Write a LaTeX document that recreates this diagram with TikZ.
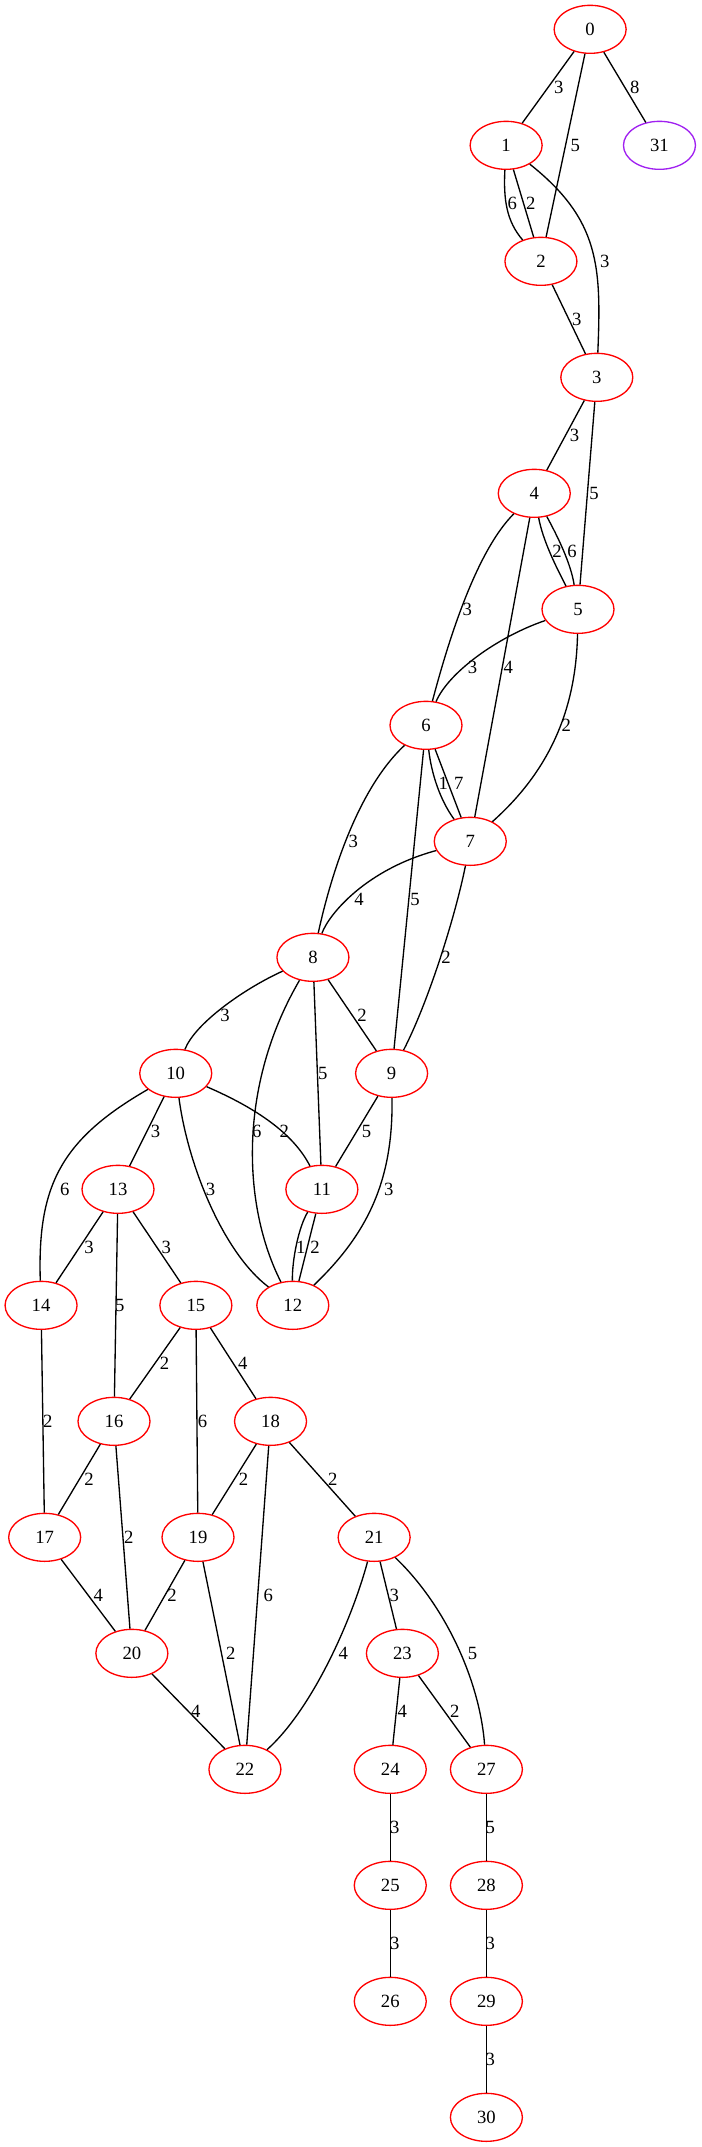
\documentclass[tikz,border=0pt]{standalone}
\usepackage{fontspec}
\setmainfont{Liberation Serif}
\usetikzlibrary{shapes.geometric}
\definecolor{gvred}{RGB}{255,0,0}
\definecolor{gvpurple}{RGB}{160,32,240}
\begin{document}
\begin{tikzpicture}[x=1pt,y=1pt,
  vtx/.style={ellipse,draw=gvred,line width=1pt,minimum width=54pt,minimum height=36pt,inner sep=0pt,font=\fontsize{14}{16}\selectfont},
  vtxp/.style={vtx,draw=gvpurple},
  lbl/.style={inner sep=0pt,font=\fontsize{14}{16}\selectfont},
  conn/.style={line width=1pt,draw=black}]
\useasboundingbox (0,0) rectangle (525.75,-1610.25);
% nodes
\node[vtx] (n0) at (442.6,-22) {0};
\node[vtx] (n1) at (379.6,-109) {1};
\node[vtxp] (n31) at (494.6,-109) {31};
\node[vtx] (n2) at (405.7,-196) {2};
\node[vtx] (n3) at (447.6,-283) {3};
\node[vtx] (n4) at (400.7,-370) {4};
\node[vtx] (n5) at (433.5,-457) {5};
\node[vtx] (n6) at (319.5,-544) {6};
\node[vtx] (n7) at (352.7,-631) {7};
\node[vtx] (n8) at (234.7,-718) {8};
\node[vtx] (n10) at (131.8,-805) {10};
\node[vtx] (n9) at (293.7,-805) {9};
\node[vtx] (n13) at (88.5,-892) {13};
\node[vtx] (n11) at (241.4,-892) {11};
\node[vtx] (n14) at (30.8,-979) {14};
\node[vtx] (n15) at (146.9,-979) {15};
\node[vtx] (n12) at (219.6,-979) {12};
\node[vtx] (n16) at (85.5,-1066) {16};
\node[vtx] (n18) at (202.9,-1066) {18};
\node[vtx] (n17) at (33.5,-1153) {17};
\node[vtx] (n19) at (148.5,-1153) {19};
\node[vtx] (n21) at (280.6,-1153) {21};
\node[vtx] (n20) at (98.9,-1240) {20};
\node[vtx] (n23) at (301.8,-1240) {23};
\node[vtx] (n22) at (183.7,-1327) {22};
\node[vtx] (n24) at (292.7,-1327) {24};
\node[vtx] (n27) at (364.8,-1327) {27};
\node[vtx] (n25) at (292.7,-1414) {25};
\node[vtx] (n28) at (364.8,-1414) {28};
\node[vtx] (n26) at (292.7,-1501) {26};
\node[vtx] (n29) at (364.8,-1501) {29};
\node[vtx] (n30) at (364.8,-1588) {30};
% edges
\draw[conn] (n0) -- (n1);
\draw[conn] (n0) -- (n2);
\draw[conn] (n0) -- (n31);
\draw[conn] (n1) .. controls (377.5,-150) and (380,-166) .. (n2);
\draw[conn] (n1) -- (n2);
\draw[conn] (n1) .. controls (450,-165) and (451,-200) .. (n3);
\draw[conn] (n2) -- (n3);
\draw[conn] (n3) -- (n4);
\draw[conn] (n3) -- (n5);
\draw[conn] (n4) .. controls (407,-405) and (417,-425) .. (n5);
\draw[conn] (n4) .. controls (418,-402) and (428,-422) .. (n5);
\draw[conn] (n4) .. controls (356.6,-414.1) and (335.7,-482.7) .. (n6);
\draw[conn] (n4) -- (n7);
\draw[conn] (n5) .. controls (372,-478) and (336,-505) .. (n6);
\draw[conn] (n5) .. controls (432,-535) and (410,-580) .. (n7);
\draw[conn] (n6) .. controls (323.5,-580) and (330,-600) .. (n7);
\draw[conn] (n6) -- (n7);
\draw[conn] (n6) .. controls (268,-592) and (248,-657) .. (n8);
\draw[conn] (n6) -- (n9);
\draw[conn] (n7) .. controls (275,-652) and (247,-685) .. (n8);
\draw[conn] (n7) .. controls (342,-685) and (322,-750) .. (n9);
\draw[conn] (n8) .. controls (182,-742) and (146,-768) .. (n10);
\draw[conn] (n8) -- (n9);
\draw[conn] (n8) -- (n11);
\draw[conn] (n8) .. controls (178,-815) and (182,-905) .. (n12);
\draw[conn] (n10) .. controls (192,-831) and (220,-850) .. (n11);
\draw[conn] (n9) -- (n11);
\draw[conn] (n10) -- (n13);
\draw[conn] (n10) .. controls (45,-855) and (28,-890) .. (n14);
\draw[conn] (n10) .. controls (141,-875) and (168,-940) .. (n12);
\draw[conn] (n9) .. controls (295,-885) and (276,-925) .. (n12);
\draw[conn] (n11) .. controls (224,-920) and (219,-945) .. (n12);
\draw[conn] (n11) -- (n12);
\draw[conn] (n13) -- (n14);
\draw[conn] (n13) -- (n15);
\draw[conn] (n13) -- (n16);
\draw[conn] (n14) -- (n17);
\draw[conn] (n15) -- (n16);
\draw[conn] (n15) -- (n18);
\draw[conn] (n15) -- (n19);
\draw[conn] (n16) -- (n17);
\draw[conn] (n16) -- (n20);
\draw[conn] (n18) -- (n19);
\draw[conn] (n18) -- (n21);
\draw[conn] (n18) -- (n22);
\draw[conn] (n17) -- (n20);
\draw[conn] (n19) -- (n20);
\draw[conn] (n19) -- (n22);
\draw[conn] (n21) .. controls (263,-1218) and (233,-1283) .. (n22);
\draw[conn] (n21) -- (n23);
\draw[conn] (n21) .. controls (335,-1205) and (360,-1262) .. (n27);
\draw[conn] (n20) -- (n22);
\draw[conn] (n23) -- (n24);
\draw[conn] (n23) -- (n27);
\draw[conn] (n24) -- (n25);
\draw[conn] (n25) -- (n26);
\draw[conn] (n27) -- (n28);
\draw[conn] (n28) -- (n29);
\draw[conn] (n29) -- (n30);
% edge labels
\node[lbl] (l0a) at (419.1,-65.5) {3};
\node[lbl] (l0b) at (476.1,-65.5) {8};
\node[lbl] (l0c) at (431.5,-109) {5};
\node[lbl] (l1a) at (384.3,-152.5) {6};
\node[lbl] (l1b) at (398,-152.5) {2};
\node[lbl] (l1c) at (453.5,-196) {3};
\node[lbl] (l2a) at (432.5,-239.5) {3};
\node[lbl] (l3a) at (430.9,-326.5) {3};
\node[lbl] (l3b) at (445.5,-370) {5};
\node[lbl] (l4a) at (417.8,-413.5) {2};
\node[lbl] (l4b) at (429,-413.5) {6};
\node[lbl] (l4c) at (350.4,-457) {3};
\node[lbl] (l4d) at (381.2,-500.5) {4};
\node[lbl] (l5a) at (354.4,-500.5) {3};
\node[lbl] (l5b) at (424.8,-544) {2};
\node[lbl] (l6a) at (332.5,-587.5) {1};
\node[lbl] (l6b) at (344,-587.5) {7};
\node[lbl] (l6c) at (264.9,-631) {3};
\node[lbl] (l6d) at (311.2,-674.5) {5};
\node[lbl] (l7a) at (269.2,-674.5) {4};
\node[lbl] (l7b) at (334.6,-718) {2};
\node[lbl] (l8a) at (168.7,-761.5) {3};
\node[lbl] (l8b) at (271.6,-761.5) {2};
\node[lbl] (l8c) at (242.1,-805) {5};
\node[lbl] (l8d) at (192.5,-848.5) {6};
\node[lbl] (l10a) at (213.3,-848.5) {2};
\node[lbl] (l9a) at (274.9,-848.5) {5};
\node[lbl] (l10b) at (116.7,-848.5) {3};
\node[lbl] (l10c) at (48.6,-892) {6};
\node[lbl] (l10d) at (157.9,-892) {3};
\node[lbl] (l9b) at (291.5,-892) {3};
\node[lbl] (l11a) at (225.5,-935.5) {1};
\node[lbl] (l11b) at (236.3,-935.5) {2};
\node[lbl] (l13a) at (66.7,-935.5) {3};
\node[lbl] (l13b) at (124.7,-935.5) {3};
\node[lbl] (l13c) at (89.9,-979) {5};
\node[lbl] (l15a) at (123.4,-1022.5) {2};
\node[lbl] (l15b) at (182.1,-1022.5) {4};
\node[lbl] (l14a) at (35.9,-1066) {2};
\node[lbl] (l15c) at (151.9,-1066) {6};
\node[lbl] (l16a) at (66.7,-1109.5) {2};
\node[lbl] (l18a) at (182.7,-1109.5) {2};
\node[lbl] (l18b) at (249.5,-1109.5) {2};
\node[lbl] (l16b) at (96.6,-1153) {2};
\node[lbl] (l17a) at (73.8,-1196.5) {4};
\node[lbl] (l19a) at (129.1,-1196.5) {2};
\node[lbl] (l18c) at (201.2,-1196.5) {6};
\node[lbl] (l21a) at (295.7,-1196.5) {3};
\node[lbl] (l19b) at (173,-1240) {2};
\node[lbl] (l21b) at (257.5,-1240) {4};
\node[lbl] (l21c) at (354.4,-1240) {5};
\node[lbl] (l20a) at (146.9,-1283.5) {4};
\node[lbl] (l23a) at (301.8,-1283.5) {4};
\node[lbl] (l23b) at (341,-1283.5) {2};
\node[lbl] (l24a) at (296.1,-1370.5) {3};
\node[lbl] (l27a) at (367.8,-1370.5) {5};
\node[lbl] (l25a) at (296.1,-1457.5) {3};
\node[lbl] (l28a) at (367.8,-1457.5) {3};
\node[lbl] (l29a) at (367.8,-1544.5) {3};
\end{tikzpicture}
\end{document}
